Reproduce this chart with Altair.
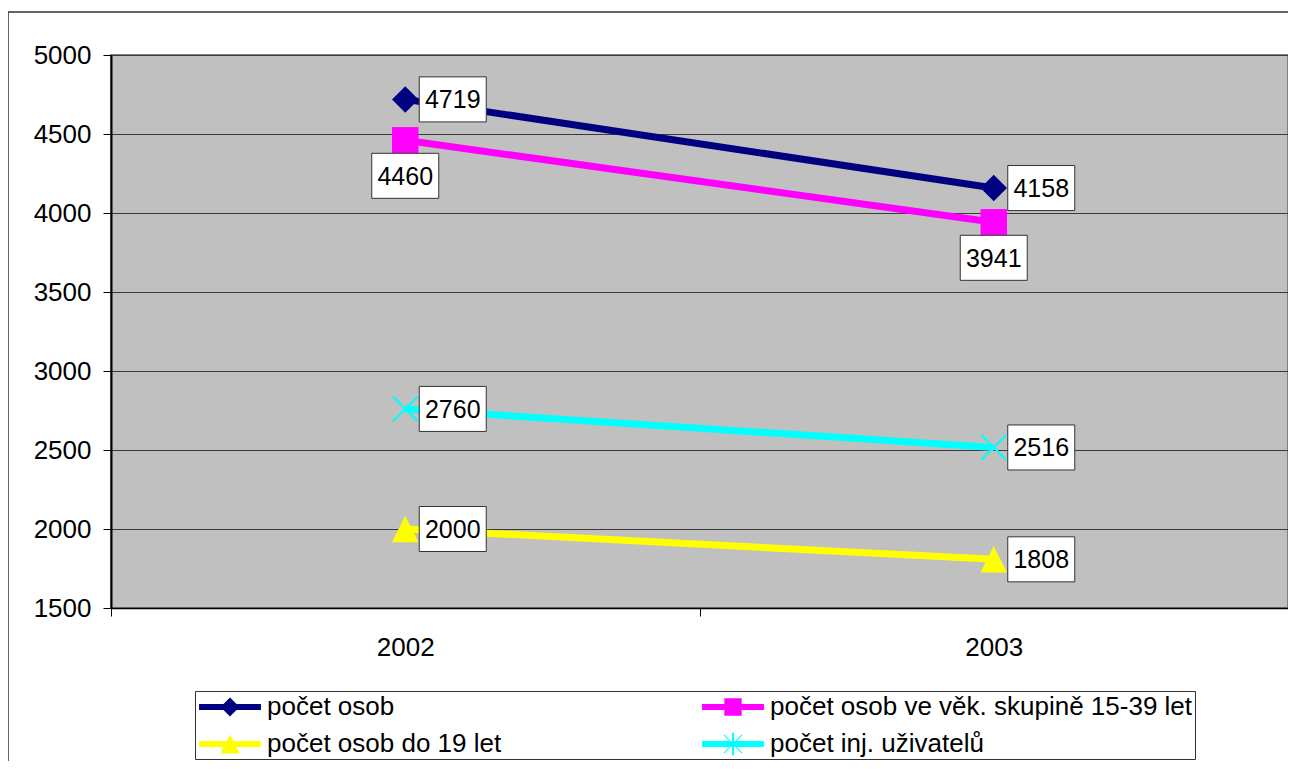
import altair as alt
import pandas as pd

# ---------------- data ----------------
years = ["2002", "2003"]
series = [
    "počet osob",
    "počet osob ve věk. skupině 15-39 let",
    "počet osob do 19 let",
    "počet inj. uživatelů",
]
values_osob = [4719, 4158]
values_15_39 = [4460, 3941]
values_do_19 = [2000, 1808]
values_inj = [2760, 2516]
y_ticks = [1500, 2000, 2500, 3000, 3500, 4000, 4500, 5000]
colors = ["#000080", "#FF00FF", "#FFFF00", "#00FFFF"]

rows = []
for s, vals in zip(series, [values_osob, values_15_39, values_do_19, values_inj]):
    for yr, v in zip(years, vals):
        rows.append({"year": yr, "series": s, "value": v})
df = pd.DataFrame(rows)
below_series = ["počet osob ve věk. skupině 15-39 let"]
df["place"] = ["below" if s in below_series else "right" for s in df["series"]]

FONT = "Liberation Sans"
FS = 26
W, H = 1177, 553

# marker paths in the plot
plot_paths = [
    "M0,-1L1,0L0,1L-1,0Z",
    "M-1,-1H1V1H-1Z",
    "M0,-1L1,1H-1Z",
    "M-0.89,-1L1,0.89L0.89,1L-1,-0.89ZM0.89,-1L1,-0.89L-0.89,1L-1,0.89Z",
]
# legend symbols: line + marker
bar = "M-2.21,-0.21H2.21V0.21H-2.21Z"
legend_paths = [
    bar + "M0,-0.68L0.68,0L0,0.68L-0.68,0Z",
    bar + "M-0.62,-0.62H0.62V0.62H-0.62Z",
    bar + "M0,-0.68L0.68,0.68H-0.68Z",
    bar + "M-0.62,-0.68L0.68,0.62L0.62,0.68L-0.68,-0.62Z"
          "M0.62,-0.68L0.68,-0.62L-0.62,0.68L-0.68,0.62Z"
          "M-0.07,-0.8H0.07V0.8H-0.07Z",
]
box_path = "M-1,-0.672H1V0.672H-1Z"

x_enc = alt.X(
    "year:N",
    scale=alt.Scale(type="band", domain=years, paddingInner=0, paddingOuter=0),
    axis=alt.Axis(
        title=None, labelAngle=0, tickBand="extent", labelFont=FONT,
        labelFontSize=FS, labelColor="black", labelPadding=18, tickSize=8,
        tickColor="#000000", domainColor="#000000", domainWidth=1.5, grid=False,
    ),
)
y_enc = alt.Y(
    "value:Q",
    scale=alt.Scale(domain=[1500, 5000], nice=False, zero=False),
    axis=alt.Axis(
        title=None, values=y_ticks, format="d", grid=True, gridColor="#3a3a3a",
        gridWidth=1, labelFont=FONT, labelFontSize=FS, labelColor="black",
        labelPadding=12, tickSize=8, tickColor="#000000", domainColor="#000000",
        domainWidth=2,
    ),
)


def color_enc(legend=None):
    return alt.Color("series:N", scale=alt.Scale(domain=series, range=colors), legend=legend)


base = alt.Chart(df)

lines = base.mark_line(strokeWidth=7).encode(x=x_enc, y=y_enc, color=color_enc())
points = base.mark_point(filled=True, opacity=1, strokeWidth=0, size=700).encode(
    x=x_enc, y=y_enc, color=color_enc(),
    shape=alt.Shape("series:N", scale=alt.Scale(domain=series, range=plot_paths), legend=None),
)

leg = alt.Legend(
    title=None, orient="none", legendX=84, legendY=636, columns=2,
    direction="horizontal",
    symbolSize=784, symbolOffset=19, labelOffset=23, columnPadding=198,
    rowPadding=10, padding=2, strokeColor="#333333", fillColor="white",
    labelFont=FONT, labelFontSize=FS, labelColor="black", labelLimit=1000,
    symbolStrokeWidth=0, symbolOpacity=1,
)
legend_layer = base.mark_point(filled=True, opacity=0, size=784).encode(
    x=x_enc, y=y_enc,
    color=color_enc(leg),
    shape=alt.Shape("series:N", scale=alt.Scale(domain=series, range=legend_paths), legend=leg),
)

box_style = dict(shape=box_path, size=4489, fill="white", stroke="#333333",
                 strokeWidth=1, opacity=1, fillOpacity=1)
text_style = dict(font=FONT, fontSize=FS - 1, color="black", align="center", baseline="middle")

right = base.transform_filter(alt.datum.place == "right")
below = base.transform_filter(alt.datum.place == "below")

right_box = right.mark_point(xOffset=47.5, **box_style).encode(x=x_enc, y=y_enc)
right_txt = right.mark_text(dx=47.5, dy=1, **text_style).encode(
    x=x_enc, y=y_enc, text=alt.Text("value:Q", format="d"))
below_box = below.mark_point(yOffset=35.5, **box_style).encode(x=x_enc, y=y_enc)
below_txt = below.mark_text(dy=36.5, **text_style).encode(
    x=x_enc, y=y_enc, text=alt.Text("value:Q", format="d"))

frame = alt.Chart(pd.DataFrame({"f": [0]})).mark_rect(
    fill="transparent", stroke="#333333", strokeWidth=1.5
).encode(x=alt.value(-103), x2=alt.value(W + 40), y=alt.value(-43), y2=alt.value(H + 300))

chart = (
    alt.layer(frame, lines, points, legend_layer, right_box, right_txt, below_box, below_txt)
    .resolve_scale(shape="independent", color="independent")
    .properties(
        width=W, height=H,
        autosize=alt.AutoSizeParams(type="none"),
        padding={"left": 103, "top": 47, "right": 0, "bottom": 153},
    )
    .configure(background="white")
    .configure_view(fill="#C0C0C0", stroke="#808080", strokeWidth=2)
)

chart.save("out.html", embed_options={"renderer": "svg", "actions": False})
